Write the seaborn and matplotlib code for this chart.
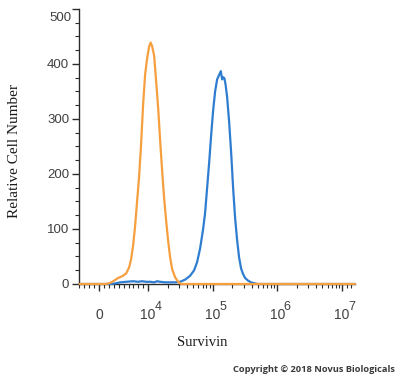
import numpy as np
import pandas as pd
import matplotlib
matplotlib.use('Agg')
import matplotlib.pyplot as plt
import matplotlib.ticker as mticker
import seaborn as sns

# Histogram traces (intensity, cell count)
iso_x = [-4000, 200, 1400, 2240, 3060, 3870, 4690, 5500, 6110, 6520, 6930, 7330,
         7740, 8150, 8560, 8960, 9370, 9780, 10360, 10930, 11530, 12380, 13300,
         14280, 15340, 16470, 17690, 18990, 20400, 21910, 23520, 26180, 29130,
         32430, 1.6e7]
iso_y = [0, 0, 0, 2, 6, 11, 14, 19, 30, 45, 70, 105,
         150, 195, 255, 325, 380, 410, 432, 439, 432, 415, 368,
         320, 260, 205, 155, 115, 78, 48, 27, 12, 4,
         0, 0]

surv_x = [-4000, 2240, 3260, 4280, 5500, 6930, 7940, 8760, 9570, 10740, 12380,
          13790, 15340, 18330, 21910, 26180, 31290, 37390, 44690, 51530, 57340,
          63830, 71030, 76280, 81900, 87970, 94460, 101400, 108900, 117000,
          125600, 133500, 139800, 144900, 151800, 158400, 167100, 179500,
          192700, 206900, 222200, 238700, 256300, 275200, 295500, 317300,
          353200, 393100, 453300, 504500, 1.6e7]
surv_y = [0, 0, 1, 3, 4, 5, 4, 5, 4, 4, 3,
          5, 4, 3, 3, 3, 4, 8, 15, 25, 40,
          65, 100, 130, 175, 220, 270, 315, 350, 372,
          380, 387, 372, 376, 374, 362, 340, 295,
          240, 175, 120, 80, 48, 28, 18, 11,
          6, 3, 1, 0, 0]

x_ticks = [0, 1e4, 1e5, 1e6, 1e7]
x_labels = ['0', '10', '10', '10', '10']
x_exps = ['', '4', '5', '6', '7']
y_ticks = [0, 100, 200, 300, 400, 500]

iso = pd.DataFrame({'x': iso_x, 'y': iso_y})
surv = pd.DataFrame({'x': surv_x, 'y': surv_y})

sns.set_style('ticks')
plt.rcParams['font.family'] = ['Liberation Sans', 'DejaVu Sans']

fig = plt.figure(figsize=(4, 3.78), dpi=100)
ax = fig.add_axes([0.1975, 0.2487, 0.69, 0.7275])

sns.lineplot(data=surv, x='x', y='y', ax=ax, color='#2f7dd0', lw=1.6,
             estimator=None, zorder=3, clip_on=False)
sns.lineplot(data=iso, x='x', y='y', ax=ax, color='#f69f3e', lw=1.6,
             estimator=None, zorder=4, clip_on=False)

ax.set_xscale('symlog', linthresh=1e4, linscale=0.684, base=10)
ax.set_xlim(-4100, 1.6e7)
ax.set_ylim(0, 500)

minor = [v for v in range(-4000, 10000, 1000) if v != 0]
for d in [1e4, 1e5, 1e6]:
    minor += [m * d for m in range(2, 10)]
minor += [1.2e7, 1.4e7]
ax.xaxis.set_major_locator(mticker.FixedLocator(x_ticks))
ax.xaxis.set_minor_locator(mticker.FixedLocator(minor))
ax.set_xticklabels(x_labels)
for t, e in zip(x_ticks, x_exps):
    if e:
        ax.annotate(e, xy=(t, 0), xycoords=('data', 'axes fraction'),
                    xytext=(4.6, -16.5), textcoords='offset points',
                    ha='left', va='center', fontsize=9, color='#404040',
                    annotation_clip=False)

ax.yaxis.set_major_locator(mticker.FixedLocator(y_ticks))
ax.yaxis.set_minor_locator(mticker.MultipleLocator(25))
ax.set_yticklabels(['0', '100', '200', '300', '400', ''])
ax.annotate('500', xy=(0, 500), xycoords=('axes fraction', 'data'),
            xytext=(-5.5, -6.5), textcoords='offset points',
            ha='right', va='center', fontsize=9.5, color='#404040',
            annotation_clip=False)

sns.despine(ax=ax)
for s in ['left', 'bottom']:
    ax.spines[s].set_color('#2b2b2b')
    ax.spines[s].set_linewidth(1.0)

ax.tick_params(axis='x', which='major', length=5, width=1, color='#2b2b2b',
               pad=12, labelsize=10, labelcolor='#404040')
ax.tick_params(axis='x', which='minor', length=3, width=0.8, color='#2b2b2b')
ax.tick_params(axis='y', which='major', length=5, width=1, color='#2b2b2b',
               pad=2, labelsize=9.5, labelcolor='#404040')
ax.tick_params(axis='y', which='minor', length=3, width=0.8, color='#2b2b2b')

ax.set_xlabel('Survivin', family='Liberation Serif', fontsize=10.5, color='#1a1a1a')
ax.set_ylabel('Relative Cell Number', family='Liberation Serif', fontsize=11,
              color='#1a1a1a')
ax.xaxis.set_label_coords((202 - 79) / 276, -0.19)
ax.yaxis.set_label_coords(-0.21, 0.484)

fig.text(0.988, 0.01, 'Copyright \u00a9 2018 Novus Biologicals', ha='right',
         va='bottom', fontsize=6.7, family='Open Sans', weight='bold',
         color='#3a3a3a')

fig.savefig('out.png', dpi=100)
